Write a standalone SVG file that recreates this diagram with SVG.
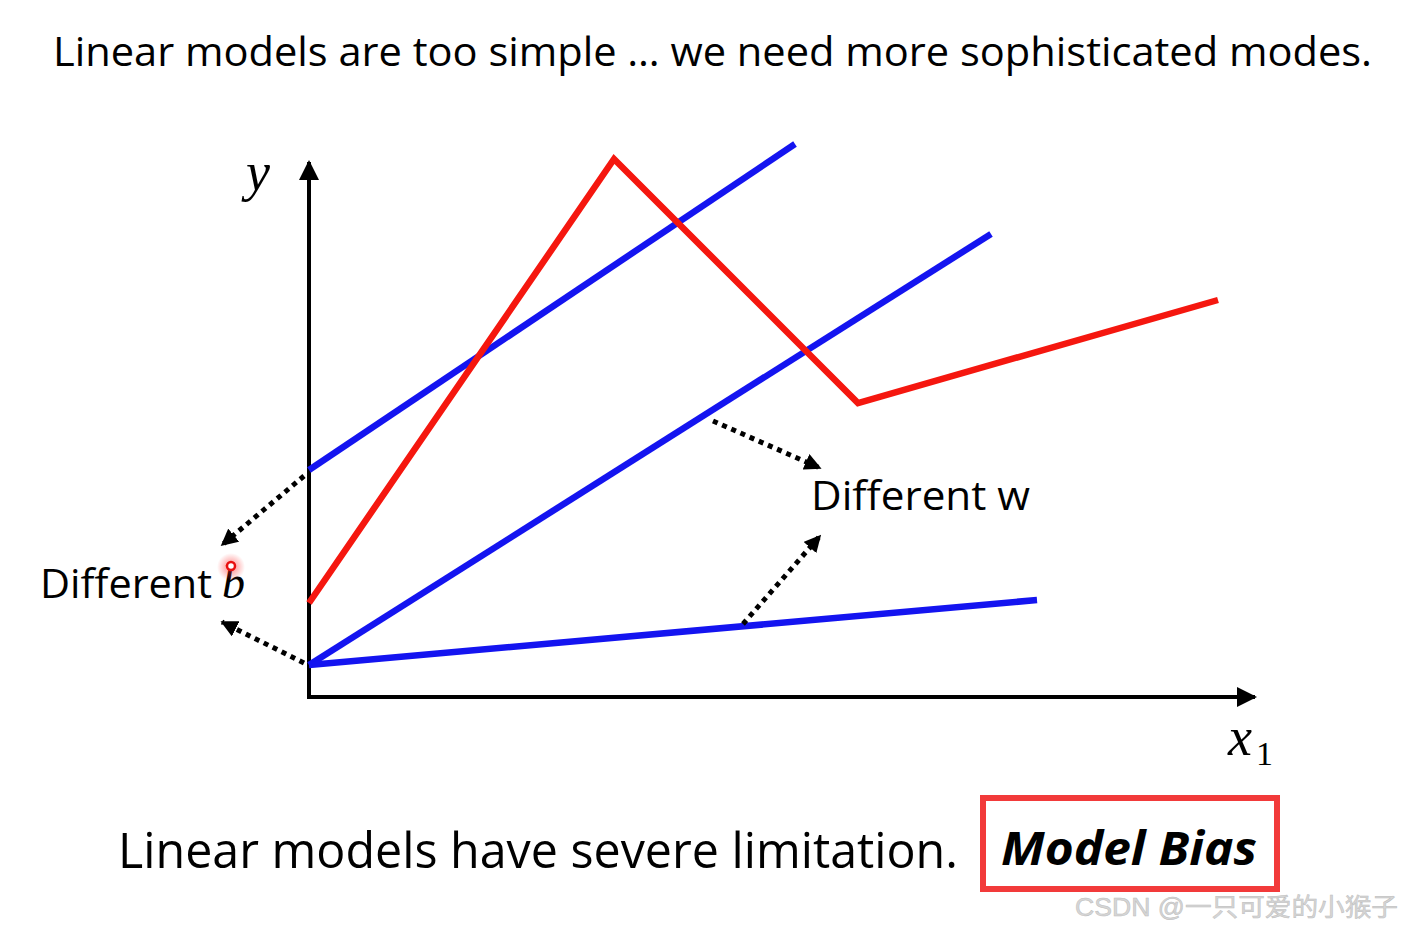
<svg xmlns="http://www.w3.org/2000/svg" width="1402" height="931" viewBox="0 0 1402 931">
  <defs>
    <style>
      .txt { font-family: "Open Sans", "Noto Sans", "Liberation Sans", sans-serif; fill: #000; }
      .math { font-family: "Liberation Serif", "DejaVu Serif", serif; font-style: italic; fill: #000; }
      .blue { stroke: #1414f0; stroke-width: 6.5; fill: none; stroke-linecap: butt; }
      .red { stroke: #f5170f; stroke-width: 6.5; fill: none; stroke-linejoin: miter; }
      .axis { stroke: #000; stroke-width: 4; fill: none; }
      .dot { stroke: #000; stroke-width: 5; fill: none; stroke-dasharray: 5 5; }
    </style>
    <marker id="axhead" viewBox="0 0 10 10" refX="9" refY="5" markerWidth="20" markerHeight="20" markerUnits="userSpaceOnUse" orient="auto">
      <path d="M0,0 L10,5 L0,10 z" fill="#000"/>
    </marker>
    <marker id="dothead" viewBox="0 0 10 10" refX="9" refY="5" markerWidth="17" markerHeight="17" markerUnits="userSpaceOnUse" orient="auto">
      <path d="M0,0 L10,5 L0,10 z" fill="#000"/>
    </marker>
    <radialGradient id="glow">
      <stop offset="0" stop-color="#ff3030" stop-opacity="0.6"/>
      <stop offset="1" stop-color="#ff3030" stop-opacity="0"/>
    </radialGradient>
  </defs>
  <rect width="1402" height="931" fill="#fff"/>

  <g id="title">
    <text class="txt" x="53" y="66" font-size="40" textLength="1319" lengthAdjust="spacingAndGlyphs">Linear models are too simple … we need more sophisticated modes.</text>
  </g>

  <g id="axes">
    <line class="axis" x1="309" y1="699" x2="309" y2="162" marker-end="url(#axhead)"/>
    <line class="axis" x1="307" y1="697" x2="1255" y2="697" marker-end="url(#axhead)"/>
    <text class="math" x="246" y="190" font-size="54">y</text>
    <text class="math" x="1228" y="755" font-size="54">x</text>
    <text font-family="Liberation Serif, DejaVu Serif, serif" x="1256" y="765" font-size="34" fill="#000">1</text>
  </g>

  <g id="lines">
    <line id="blue1" class="blue" x1="309" y1="470" x2="795" y2="144"/>
    <line id="blue2" class="blue" x1="309" y1="665" x2="991" y2="234"/>
    <line id="blue3" class="blue" x1="309" y1="665" x2="1037" y2="600"/>
    <polyline id="red" class="red" points="309,603 614,159 858,403 1218,300"/>
  </g>

  <g id="connectors">
    <line class="dot" x1="304" y1="476" x2="222" y2="545" marker-end="url(#dothead)"/>
    <line class="dot" x1="304" y1="663" x2="222" y2="622" marker-end="url(#dothead)"/>
    <line class="dot" x1="713" y1="421" x2="820" y2="468" marker-end="url(#dothead)"/>
    <line class="dot" x1="743" y1="624" x2="820" y2="536" marker-end="url(#dothead)"/>
  </g>

  <g id="label-b">
    <text class="txt" x="40" y="598" font-size="40" textLength="172" lengthAdjust="spacingAndGlyphs">Different</text>
    <text class="math" x="222" y="598" font-size="46">b</text>
  </g>

  <g id="cursor">
    <circle cx="231" cy="567" r="14" fill="url(#glow)"/>
    <circle cx="231" cy="566" r="4" fill="#fff" stroke="#e81010" stroke-width="2.5"/>
  </g>

  <g id="label-w">
    <text class="txt" x="811" y="510" font-size="40" textLength="219" lengthAdjust="spacingAndGlyphs">Different w</text>
  </g>

  <g id="bottom">
    <text class="txt" x="118" y="868" font-size="49" textLength="840" lengthAdjust="spacingAndGlyphs">Linear models have severe limitation.</text>
  </g>

  <g id="model-bias">
    <rect x="983" y="798" width="294" height="91" fill="none" stroke="#f23a3a" stroke-width="6"/>
    <text class="txt" x="1001" y="865" font-size="46" font-weight="bold" font-style="italic" textLength="256" lengthAdjust="spacingAndGlyphs">Model Bias</text>
  </g>

  <g id="watermark">
    <text x="1075" y="916" font-family="Liberation Sans, Noto Sans CJK SC, sans-serif" font-size="25" fill="#d6d6d6" stroke="#bdbdbd" stroke-width="0.5" textLength="323" lengthAdjust="spacingAndGlyphs">CSDN @一只可爱的小猴子</text>
  </g>
</svg>
